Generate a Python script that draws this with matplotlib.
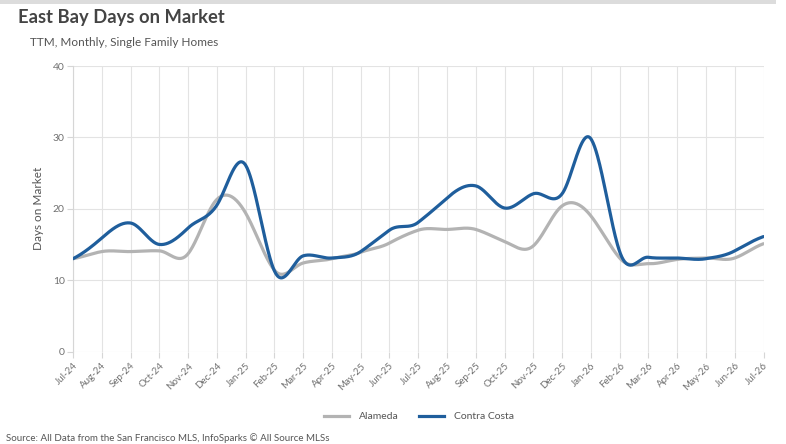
import numpy as np
import matplotlib
matplotlib.use("Agg")
import matplotlib.pyplot as plt
from matplotlib.patches import Rectangle
from matplotlib.lines import Line2D

# Monthly data, Jul-24 .. Jul-26
meses = ["Jul-24", "Aug-24", "Sep-24", "Oct-24", "Nov-24", "Dec-24", "Jan-25",
         "Feb-25", "Mar-25", "Apr-25", "May-25", "Jun-25", "Jul-25", "Aug-25",
         "Sep-25", "Oct-25", "Nov-25", "Dec-25", "Jan-26", "Feb-26", "Mar-26",
         "Apr-26", "May-26", "Jun-26", "Jul-26"]
alameda = [13.0, 14.0, 14.0, 14.1, 13.7, 21.3, 19.4, 11.4, 12.4, 13.0, 13.9, 15.2,
           17.0, 17.1, 17.1, 15.4, 14.8, 20.4, 19.0, 13.1, 12.3, 12.9, 13.1, 13.1, 15.1]
contra_costa = [13.0, 15.9, 18.0, 15.0, 17.3, 20.5, 26.1, 11.3, 13.4, 13.1, 14.0, 17.0,
                18.1, 21.5, 23.2, 20.1, 22.1, 22.1, 29.8, 14.0, 13.2, 13.1, 13.0, 14.1, 16.1]
yticks = [0, 10, 20, 30, 40]

color_gris = "#b3b3b3"
color_azul = "#1f5e9c"

plt.rcParams["font.family"] = ["Lato", "DejaVu Sans"]

fig = plt.figure(figsize=(7.86, 4.44), dpi=100)
ax = fig.add_axes([73 / 786, 1 - 351.5 / 444, 690.5 / 786, 285.5 / 444])
ax.set_xlim(0, len(meses) - 1)
ax.set_ylim(0, 40)


def curva_suave(valores, c=0.7, n=40):
    # cardinal (hermite) spline through the monthly points
    y = np.asarray(valores, dtype=float)
    m = np.zeros_like(y)
    m[1:-1] = c * (y[2:] - y[:-2])
    m[0] = c * (y[1] - y[0])
    m[-1] = c * (y[-1] - y[-2])
    t = np.linspace(0, 1, n)
    h00 = 2 * t ** 3 - 3 * t ** 2 + 1
    h10 = t ** 3 - 2 * t ** 2 + t
    h01 = -2 * t ** 3 + 3 * t ** 2
    h11 = t ** 3 - t ** 2
    xs, ys = [], []
    for i in range(len(y) - 1):
        xs.append(i + t)
        ys.append(h00 * y[i] + h10 * m[i] + h01 * y[i + 1] + h11 * m[i + 1])
    return np.concatenate(xs), np.concatenate(ys)


xa, ya = curva_suave(alameda)
xb, yb = curva_suave(contra_costa)
ax.plot(xa, ya, color=color_gris, lw=2.3, solid_capstyle="round", zorder=3)
ax.plot(xb, yb, color=color_azul, lw=2.3, solid_capstyle="round", zorder=4)

# Axes and grid
ax.set_xticks(range(len(meses)))
ax.set_xticklabels(meses, rotation=45, ha="right", rotation_mode="anchor")
ax.set_yticks(yticks)
ax.grid(True, color="#e3e3e3", lw=0.8)
ax.set_axisbelow(True)
for lado in ["top", "right", "bottom"]:
    ax.spines[lado].set_visible(False)
ax.spines["left"].set_color("#d6d6d6")
ax.tick_params(axis="both", colors="#d6d6d6", labelcolor="#707070", length=4, width=0.8)
ax.tick_params(axis="x", labelsize=7, pad=3)
ax.tick_params(axis="y", labelsize=7.5, pad=2)
ax.set_ylabel("Days on Market", fontsize=8.5, color="#555555")
ax.yaxis.set_label_coords(-0.042, 0.5)

# Titles
fig.text(18 / 786, 1 - 18 / 444, "East Bay Days on Market", fontsize=13.2,
         fontweight="bold", color="#444444", va="center")
fig.text(30 / 786, 1 - 42 / 444, "TTM, Monthly, Single Family Homes", fontsize=8.5,
         color="#555555", va="center")

# Legend
handles = [Line2D([], [], color=color_gris, lw=2.3),
           Line2D([], [], color=color_azul, lw=2.3)]
fig.legend(handles, ["Alameda", "Contra Costa"], loc="center",
           bbox_to_anchor=(419 / 786, 1 - 416.5 / 444), ncol=2, frameon=False,
           fontsize=7.5, handlelength=2.4, handletextpad=0.9, columnspacing=2.0,
           labelcolor="#555555")

# Source note and top bar
fig.text(6 / 786, 1.5 / 444, "Source: All Data from the San Francisco MLS, InfoSparks © All Source MLSs",
         fontsize=7, color="#555555", va="bottom")
fig.add_artist(Rectangle((0, 1 - 4.5 / 444), 776 / 786, 4 / 444,
                         transform=fig.transFigure, color="#dcdcdc", lw=0))

fig.savefig("out.png", dpi=100)
